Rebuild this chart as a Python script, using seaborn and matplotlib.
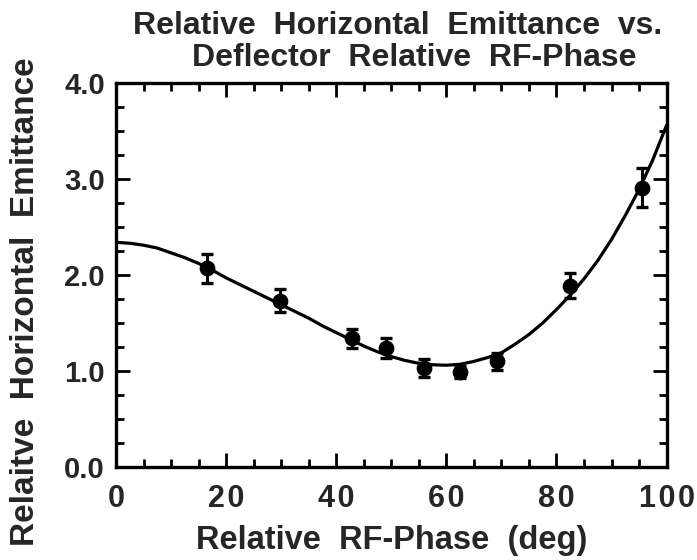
import numpy as np
import pandas as pd
import matplotlib
matplotlib.use('Agg')
import matplotlib.pyplot as plt
import seaborn as sns
from matplotlib.ticker import MultipleLocator

# measured points
phase = [16.5, 29.8, 42.9, 49.1, 55.9, 62.4, 69.2, 82.4, 95.6]
emit = [2.07, 1.73, 1.34, 1.24, 1.03, 0.99, 1.10, 1.89, 2.91]
emit_err = [0.15, 0.12, 0.10, 0.10, 0.09, 0.06, 0.09, 0.13, 0.20]

# fitted curve, every 2.5 deg
fit_phase = [0, 2.5, 5, 7.5, 10, 12.5, 15, 17.5, 20, 22.5, 25, 27.5, 30, 32.5, 35, 37.5, 40,
             42.5, 45, 47.5, 50, 52.5, 55, 57.5, 60, 62.5, 65, 67.5, 70, 72.5, 75, 77.5, 80,
             82.5, 85, 87.5, 90, 92.5, 95, 97.5, 100]
fit_emit = [2.34, 2.33, 2.31, 2.28, 2.23, 2.18, 2.12, 2.05, 1.97, 1.90, 1.83, 1.76, 1.69, 1.62,
            1.55, 1.47, 1.40, 1.33, 1.26, 1.20, 1.15, 1.11, 1.08, 1.065, 1.06, 1.07, 1.10, 1.14,
            1.19, 1.28, 1.38, 1.50, 1.64, 1.79, 1.96, 2.15, 2.37, 2.62, 2.89, 3.20, 3.56]

xtick_vals = [0, 20, 40, 60, 80, 100]
xtick_lbls = ['0', '2\u200a0', '4\u200a0', '6\u200a0', '8\u200a0', '1\u200a0\u200a0']
ytick_vals = [0, 1, 2, 3, 4]
ytick_lbls = ['0.0', '1.0', '2.0', '3.0', '4.0']

sns.set_style('ticks')
plt.rcParams['font.family'] = ['Liberation Sans', 'DejaVu Sans']

fig = plt.figure(figsize=(6.97, 5.6), dpi=100)
ax = fig.add_axes([0.1664, 0.166, 0.79, 0.686])

pts = pd.DataFrame({'phase': phase, 'emit': emit})
fit = pd.DataFrame({'phase': fit_phase, 'emit': fit_emit})

sns.lineplot(data=fit, x='phase', y='emit', color='black', lw=2.3, ax=ax)
ax.errorbar(phase, emit, yerr=emit_err, fmt='none', ecolor='black',
            elinewidth=2.2, capsize=4.5, capthick=2.4, zorder=3)
sns.scatterplot(data=pts, x='phase', y='emit', color='black', s=110,
                edgecolor='black', zorder=4, ax=ax)

ax.set_xlim(0, 100)
ax.set_ylim(0, 4.0)
ax.xaxis.set_minor_locator(MultipleLocator(5))
ax.yaxis.set_minor_locator(MultipleLocator(0.25))
ax.set_xticks(xtick_vals)
ax.set_xticklabels(xtick_lbls, fontsize=22, fontweight='bold')
ax.set_yticks(ytick_vals)
ax.set_yticklabels(ytick_lbls, fontsize=21, fontweight='bold')
ax.tick_params(which='both', direction='in', top=True, right=True, width=2, color='black')
ax.tick_params(which='major', length=10, pad=8)
ax.tick_params(axis='x', which='major', pad=12)
ax.tick_params(which='minor', length=6)
for s in ax.spines.values():
    s.set_linewidth(2.4)
    s.set_color('black')

ax.set_xlabel('Relative  RF-Phase  (deg)', fontsize=23.5, fontweight='bold', labelpad=8)
ax.set_ylabel('')
fig.text(0.036, 0.461, 'Relaitve  Horizontal  Emittance', rotation=90, ha='center', va='center',
         fontsize=24, fontweight='bold')

fig.text(0.57, 0.94, 'Relative  Horizontal  Emittance  vs.', ha='center', fontsize=23, fontweight='bold')
fig.text(0.595, 0.882, 'Deflector  Relative  RF-Phase', ha='center', fontsize=23, fontweight='bold')

fig.savefig('out.png', dpi=100, facecolor='white')
